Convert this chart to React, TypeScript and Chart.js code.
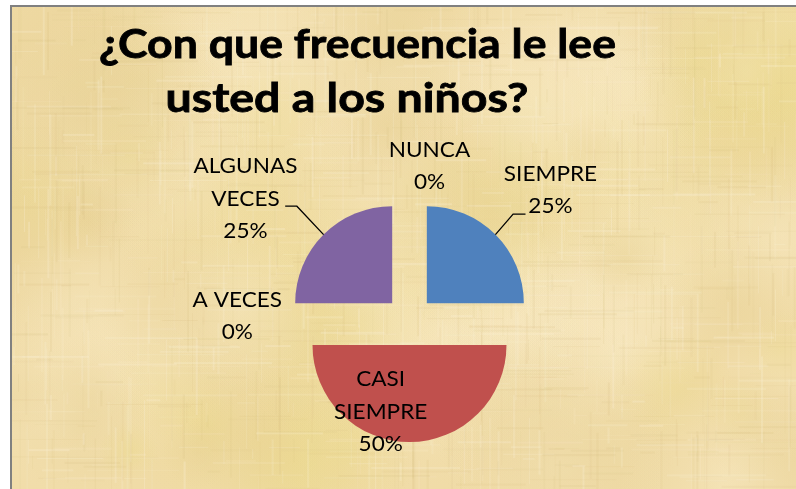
import React, { useEffect, useRef } from "react";
import { Chart, registerables } from "chart.js";

Chart.register(...registerables);

// ---- data ----
const categories = ["SIEMPRE", "CASI SIEMPRE", "A VECES", "ALGUNAS VECES", "NUNCA"];
const values = [25, 50, 0, 25, 0];
const sliceColors = ["#4F81BD", "#C0504D", "#9BBB59", "#8064A2", "#4BACC6"];
const titleLines = ["¿Con que frecuencia le lee", "usted a los niños?"];

// ---- layout / style ----
const W = 796;
const H = 489;
const RADIUS = 97;
const EXPLODE = 24.5;
const LABEL_LINE_H = 32.5;
// label block: centre x and first baseline, relative to pie centre
const labelOffsets: [number, number][] = [
  [141, -139.8],
  [-28.8, 65.5],
  [-172.2, -13.8],
  [-164, -147.2],
  [20, -163.8],
];
// leader lines: knee relative to slice edge, then horizontal run
const leaders: ({ knee: [number, number]; run: number } | null)[] = [
  { knee: [17.7, -20.4], run: 12.4 },
  null,
  null,
  { knee: [-26.7, -28.4], run: -11.7 },
  null,
];
const titlePlacement = [
  { cx: 357.5, base: 58, width: 517 },
  { cx: 347, base: 112, width: 363 },
];

function makeTexture(w: number, h: number) {
  const c = document.createElement("canvas");
  c.width = w;
  c.height = h;
  const g = c.getContext("2d")!;
  g.fillStyle = "rgb(240,219,166)";
  g.fillRect(0, 0, w, h);
  let seed = 97;
  const rnd = () => {
    seed = (seed * 1664525 + 1013904223) >>> 0;
    return seed / 4294967296;
  };
  for (let i = 0; i < 110; i++) {
    const x = rnd() * w;
    const y = rnd() * h;
    const r = 30 + rnd() * 110;
    const t = rnd();
    const col = t < 0.45 ? "248,233,195" : t < 0.75 ? "230,207,145" : "234,216,138";
    const a = 0.2 + rnd() * 0.3;
    const grad = g.createRadialGradient(x, y, 0, x, y, r);
    grad.addColorStop(0, `rgba(${col},${a})`);
    grad.addColorStop(1, `rgba(${col},0)`);
    g.fillStyle = grad;
    g.fillRect(x - r, y - r, 2 * r, 2 * r);
  }
  for (let i = 0; i < 1400; i++) {
    const vertical = rnd() < 0.5;
    const light = rnd() < 0.55;
    const a = light ? 0.08 + rnd() * 0.2 : 0.04 + rnd() * 0.1;
    g.fillStyle = light ? `rgba(252,241,214,${a})` : `rgba(208,182,118,${a})`;
    const thick = 1 + Math.floor(rnd() * 2);
    const len = 10 + rnd() * 90;
    const x = rnd() * w;
    const y = rnd() * h;
    if (vertical) g.fillRect(x, y - len / 2, thick, len);
    else g.fillRect(x - len / 2, y, len, thick);
  }
  return c;
}

function wrapLabel(ctx: CanvasRenderingContext2D, text: string, maxW: number) {
  if (ctx.measureText(text).width <= maxW) return [text];
  return text.split(" ");
}

export default function App() {
  const ref = useRef<HTMLCanvasElement>(null);

  useEffect(() => {
    const canvas = ref.current!;
    const texture = makeTexture(W - 12, H - 7);

    const bgPlugin = {
      id: "bg",
      beforeDraw(chart: any) {
        const ctx = chart.ctx as CanvasRenderingContext2D;
        ctx.save();
        ctx.fillStyle = "#ffffff";
        ctx.fillRect(0, 0, W, H);
        ctx.fillStyle = "#808080";
        ctx.fillRect(10, 5, W - 10, 2);
        ctx.fillRect(10, 5, 2, H - 5);
        ctx.drawImage(texture, 12, 7);
        // title
        ctx.fillStyle = "#000";
        ctx.textAlign = "center";
        ctx.textBaseline = "alphabetic";
        ctx.font = "bold 40px Lato";
        titleLines.forEach((t, i) => {
          const p = titlePlacement[i];
          const sx = p.width / ctx.measureText(t).width;
          ctx.save();
          ctx.translate(p.cx, p.base);
          ctx.scale(sx, 1);
          ctx.lineWidth = 0.8;
          ctx.strokeStyle = "#000";
          ctx.strokeText(t, 0, 0);
          ctx.fillText(t, 0, 0);
          ctx.restore();
        });
        ctx.restore();
      },
    };

    const explodePlugin = {
      id: "explode",
      afterDatasetUpdate(chart: any, args: any) {
        args.meta.data.forEach((arc: any) => {
          const mid = (arc.startAngle + arc.endAngle) / 2;
          arc.x += Math.cos(mid) * EXPLODE;
          arc.y += Math.sin(mid) * EXPLODE;
        });
      },
    };

    const labelPlugin = {
      id: "labels",
      afterDatasetsDraw(chart: any) {
        const ctx = chart.ctx as CanvasRenderingContext2D;
        const area = chart.chartArea;
        const cx = (area.left + area.right) / 2;
        const cy = (area.top + area.bottom) / 2;
        const meta = chart.getDatasetMeta(0);
        const total = values.reduce((a, b) => a + b, 0);
        ctx.save();
        // leader lines
        ctx.strokeStyle = "#000";
        ctx.lineWidth = 1.3;
        leaders.forEach((ld, i) => {
          if (!ld) return;
          const arc = meta.data[i];
          const mid = (arc.startAngle + arc.endAngle) / 2;
          const ex = arc.x + Math.cos(mid) * arc.outerRadius;
          const ey = arc.y + Math.sin(mid) * arc.outerRadius;
          const kx = ex + ld.knee[0];
          const ky = ey + ld.knee[1];
          ctx.beginPath();
          ctx.moveTo(ex, ey);
          ctx.lineTo(kx, ky);
          ctx.lineTo(kx + ld.run, ky);
          ctx.stroke();
        });
        ctx.fillStyle = "#000";
        ctx.font = "22px Lato";
        ctx.textAlign = "center";
        ctx.textBaseline = "alphabetic";
        const sx = 104 / ctx.measureText("ALGUNAS").width;
        categories.forEach((cat, i) => {
          const pct = Math.round((values[i] / total) * 100) + "%";
          const lines = [...wrapLabel(ctx, cat, 110), pct];
          const [dx, dy] = labelOffsets[i];
          lines.forEach((ln, j) => {
            ctx.save();
            ctx.translate(cx + dx, cy + dy + j * LABEL_LINE_H);
            ctx.scale(sx, 1);
            ctx.fillText(ln, 0, 0);
            ctx.restore();
          });
        });
        ctx.restore();
      },
    };

    const chart = new Chart(canvas, {
      type: "pie",
      data: {
        labels: categories,
        datasets: [
          {
            data: values,
            backgroundColor: sliceColors,
            borderWidth: 0,
            radius: RADIUS,
          } as any,
        ],
      },
      options: {
        responsive: false,
        animation: false,
        events: [],
        layout: { padding: { left: 150, right: 127, top: 200, bottom: 48 } },
        plugins: {
          legend: { display: false },
          title: { display: false },
          tooltip: { enabled: false },
        },
      },
      plugins: [bgPlugin, explodePlugin, labelPlugin],
    });
    return () => chart.destroy();
  }, []);

  return (
    <div style={{ position: "fixed", left: 0, top: 0, width: W, height: H }}>
      <canvas ref={ref} width={W} height={H} style={{ display: "block" }} />
    </div>
  );
}
